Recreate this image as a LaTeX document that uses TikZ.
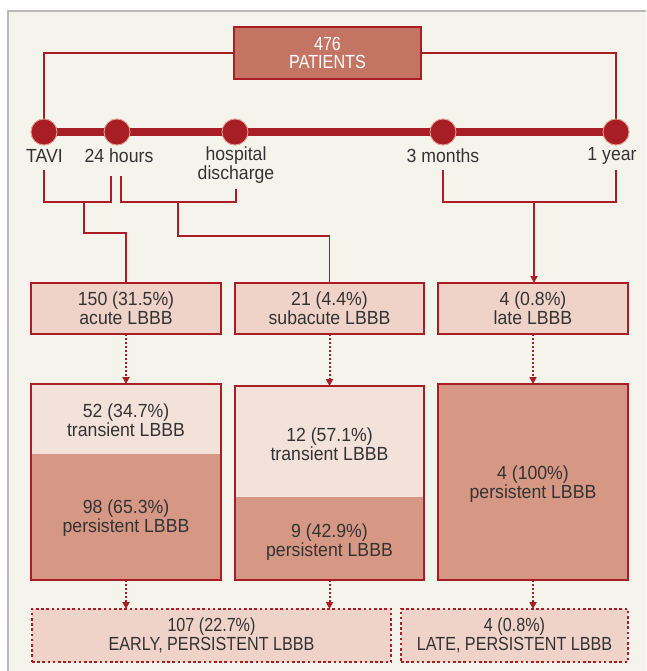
\documentclass[tikz,border=0pt]{standalone}
\usepackage{fontspec}
\setmainfont{Liberation Sans}[FakeStretch=0.93]
\newfontfamily\capsfont{Liberation Sans}[FakeStretch=0.85]
\usetikzlibrary{arrows.meta}
\definecolor{dred}{HTML}{A81E24}
\definecolor{patfill}{HTML}{C47462}
\definecolor{lightbox}{HTML}{EFD3C8}
\definecolor{transfill}{HTML}{F3E2DA}
\definecolor{persfill}{HTML}{D69885}
\definecolor{bgc}{HTML}{F5F4EC}
\definecolor{rim}{HTML}{E3A796}
\definecolor{txt}{HTML}{333333}
\begin{document}
\begin{tikzpicture}[x=1pt,y=-1pt,
  every node/.style={font=\fontsize{19}{19}\selectfont, text=txt, align=center, inner sep=0pt, outer sep=0pt},
  capstext/.style={font=\capsfont\fontsize{19}{19}\selectfont},
  redbox/.style={draw=dred, line width=1.8pt, fill=lightbox},
  dotbox/.style={draw=dred, line width=2.6pt, dash pattern=on 2.6pt off 2.6pt, fill=lightbox},
  conn/.style={draw=dred, line width=1.8pt},
  solidarrow/.style={conn, -{Triangle[width=7pt,length=7pt]}},
  dotarrow/.style={draw=dred, line width=2pt, dash pattern=on 2pt off 2pt, -{Triangle[width=7pt,length=7pt]}},
  tdot/.style={circle, fill=dred, draw=rim, line width=0.8pt, minimum size=26pt}
]
\useasboundingbox (0,0) rectangle (646,671);
\fill[white] (0,0) rectangle (646,671);
\fill[bgc] (8,11) rectangle (646,671);
\draw[gray!55, line width=1.5pt] (8,671) -- (8,11) -- (646,11);

% patients box
\node[redbox, capstext, fill=patfill, minimum width=187pt, minimum height=52pt, text=white] (pat) at (327.5,53) {476\\[-0.5pt]PATIENTS};

% timeline dots
\node[tdot] (c1) at (44,132) {};
\node[tdot] (c2) at (117,132) {};
\node[tdot] (c3) at (235,132) {};
\node[tdot] (c4) at (443,132) {};
\node[tdot] (c5) at (616,132) {};

% connectors from patients box
\draw[conn] (pat.west) -| (c1.north);
\draw[conn] (pat.east) -| (c5.north);

% timeline bar, dots redrawn on top
\draw[dred, line width=8pt] (c1.center) -- (c5.center);
\foreach \c in {c1, c2, c3, c4, c5}{
  \node[tdot] at (\c) {};
}

% timeline labels
\node (l1) at (44.5,156) {TAVI};
\node (l2) at (119,156) {24 hours};
\node (l3) at (236,165.5) {hospital\\discharge};
\node (l4) at (443,156) {3 months};
\node (l5) at (612,156) {1 year};

% bracket coordinates
\coordinate (k1) at (44,170);
\coordinate (k2) at (111,176);
\coordinate (k3) at (121,176);
\coordinate (k4) at (236,189);
\coordinate (k5) at (443,170);
\coordinate (k6) at (616,170);
\coordinate (m1) at (84,202);
\coordinate (m2) at (178,202);
\coordinate (m3) at (534,202);

% row 1 boxes
\node[redbox, minimum width=190pt, minimum height=51pt] (r1a) at (126,308.5) {150 (31.5\%)\\acute LBBB};
\node[redbox, minimum width=189pt, minimum height=51pt] (r1b) at (329.5,308.5) {21 (4.4\%)\\subacute LBBB};
\node[redbox, minimum width=190pt, minimum height=51pt] (r1c) at (533,308.5) {4 (0.8\%)\\late LBBB};

% brackets
\draw[conn] (k1) -- ++(0,32) -| (k2);
\draw[conn] (m1) -- ++(0,31) -| (r1a.north);
\draw[conn] (k3) -- ++(0,26) -| (k4);
\draw[conn] (m2) -- ++(0,34) -| (r1b.north);
\draw[conn] (k5) -- ++(0,32) -| (k6);
\draw[solidarrow] (m3) -- (m3 |- r1c.north);

% row 2 boxes
\node[fill=transfill, minimum width=190pt, minimum height=70pt] (t1) at (126,419) {};
\node[fill=persfill, minimum width=190pt, minimum height=126pt] (p1) at (126,517) {};
\draw[conn] (t1.north west) rectangle (p1.south east);
\node (t1txt) at (126,420.5) {52 (34.7\%)\\transient LBBB};
\node (p1txt) at (126,518) {98 (65.3\%)\\persistent LBBB};

\node[fill=transfill, minimum width=189pt, minimum height=111pt] (t2) at (329.5,441.5) {};
\node[fill=persfill, minimum width=189pt, minimum height=83pt] (p2) at (329.5,538.5) {};
\draw[conn] (t2.north west) rectangle (p2.south east);
\node (t2txt) at (329.5,444.5) {12 (57.1\%)\\transient LBBB};
\node (p2txt) at (329.5,542) {9 (42.9\%)\\persistent LBBB};

\node[fill=persfill, minimum width=190pt, minimum height=196pt] (p3) at (533,482) {};
\draw[conn] (p3.north west) rectangle (p3.south east);
\node (p3txt) at (533,484.5) {4 (100\%)\\persistent LBBB};

% dotted arrows row1 -> row2
\draw[dotarrow] (r1a.south) -- (t1.north);
\draw[dotarrow] (r1b.south) -- (t2.north);
\draw[dotarrow] (r1c.south) -- (p3.north);

% bottom boxes
\node[dotbox, capstext, minimum width=359pt, minimum height=53pt] (ba) at (211.5,635.5) {107 (22.7\%)\\EARLY, PERSISTENT LBBB};
\node[dotbox, capstext, minimum width=227pt, minimum height=53pt] (bb) at (514.5,635.5) {4 (0.8\%)\\LATE, PERSISTENT LBBB};

\draw[dotarrow] (p1.south) -- (p1.south |- ba.north);
\draw[dotarrow] (p2.south) -- (p2.south |- ba.north);
\draw[dotarrow] (p3.south) -- (p3.south |- bb.north);
\end{tikzpicture}
\end{document}
